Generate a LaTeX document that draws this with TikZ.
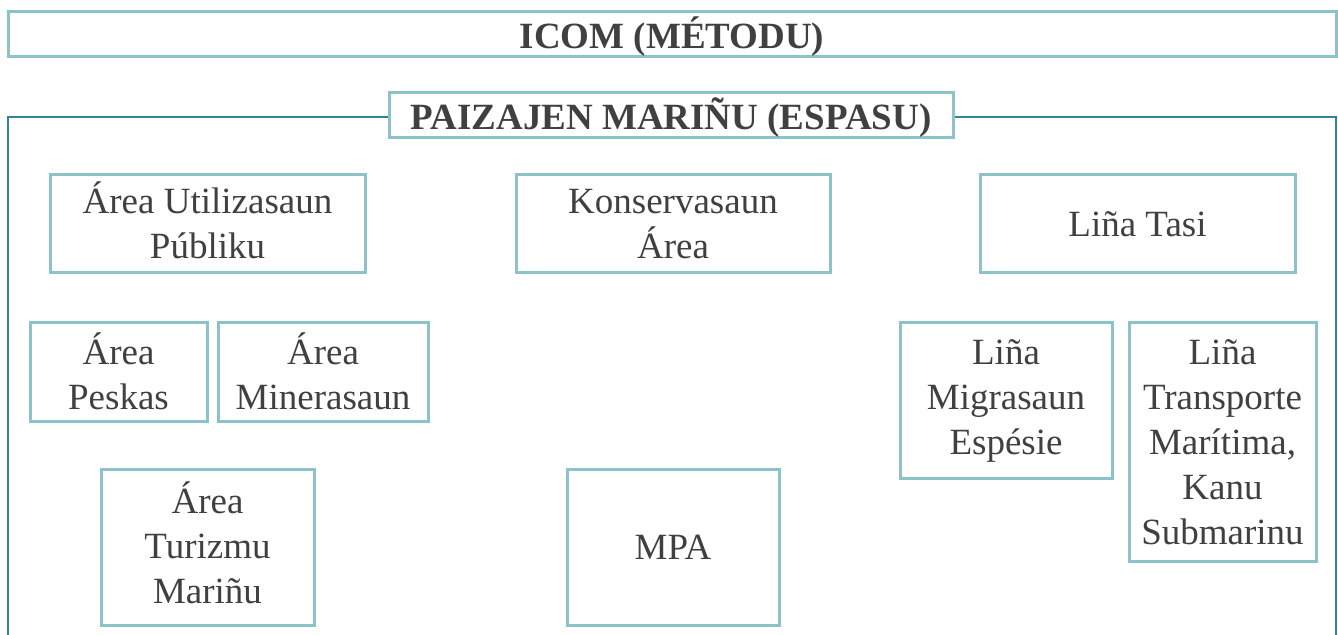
\documentclass[tikz,border=0pt]{standalone}
\usepackage{fontspec}
\setmainfont{Liberation Serif}
\usepackage{tikz}
\usetikzlibrary{calc}
\definecolor{boxline}{HTML}{8CC3CB}
\definecolor{frameline}{HTML}{2E8596}
\definecolor{ink}{HTML}{404040}

\begin{document}
\begin{tikzpicture}[
x=0.5pt, y=-0.5pt,
box/.style={
	draw=boxline, line width=1.5pt,
	rectangle, align=center, inner sep=0pt,
	text=ink, font=\fontsize{18.5}{22.5}\selectfont
},
title/.style={
	box, fill=white, text depth=1.7pt,
	font=\bfseries\fontsize{18.5}{22.5}\selectfont
},
frame/.style={draw=frameline, line width=0.75pt}
]
\useasboundingbox (0,0) rectangle (1338,635);
\node[title, minimum width=664pt, minimum height=22.5pt] (icom) at (672,34.5) {ICOM (MÉTODU)};
\coordinate (fl) at (8,635);
\coordinate (fr) at (1336,635);
\node[title, minimum width=282pt, minimum height=22.5pt] (paizajen) at (671,115.5) {PAIZAJEN MARIÑU (ESPASU)};
\draw[frame] (fl) |- ($(paizajen.west)+(0,1.5)$);
\draw[frame] ($(paizajen.east)+(0,1.5)$) -| (fr);
\node[box, minimum width=157.5pt, minimum height=49pt, text depth=3.5pt] (publiku) at (207.5,224) {Área Utilizasaun\\Públiku};
\node[box, minimum width=157pt, minimum height=49pt] (konservasaun) at (673,224) {Konservasaun\\Área};
\node[box, minimum width=157.5pt, minimum height=49pt] (tasi) at (1137.5,224) {Liña Tasi};
\node[box, minimum width=88.5pt, minimum height=49.5pt, text depth=1pt] (peskas) at (118.5,372.5) {Área\\Peskas};
\node[box, minimum width=105pt, minimum height=49.5pt, text depth=1pt] (minerasaun) at (323,372.5) {Área\\Minerasaun};
\node[box, minimum width=106pt, minimum height=78pt] (migrasaun) at (1006,401) {Liña\\Migrasaun\\Espésie};
\node[box, minimum width=93.5pt, minimum height=119.5pt] (transporte) at (1222.5,442.5) {Liña\\Transporte\\Marítima,\\Kanu\\Submarinu};
\node[box, minimum width=106.5pt, minimum height=77.5pt, text depth=5pt] (turizmu) at (207.5,547.5) {Área\\Turizmu\\Mariñu};
\node[box, minimum width=106pt, minimum height=77.5pt] (mpa) at (673,547.5) {MPA};
\end{tikzpicture}
\end{document}
